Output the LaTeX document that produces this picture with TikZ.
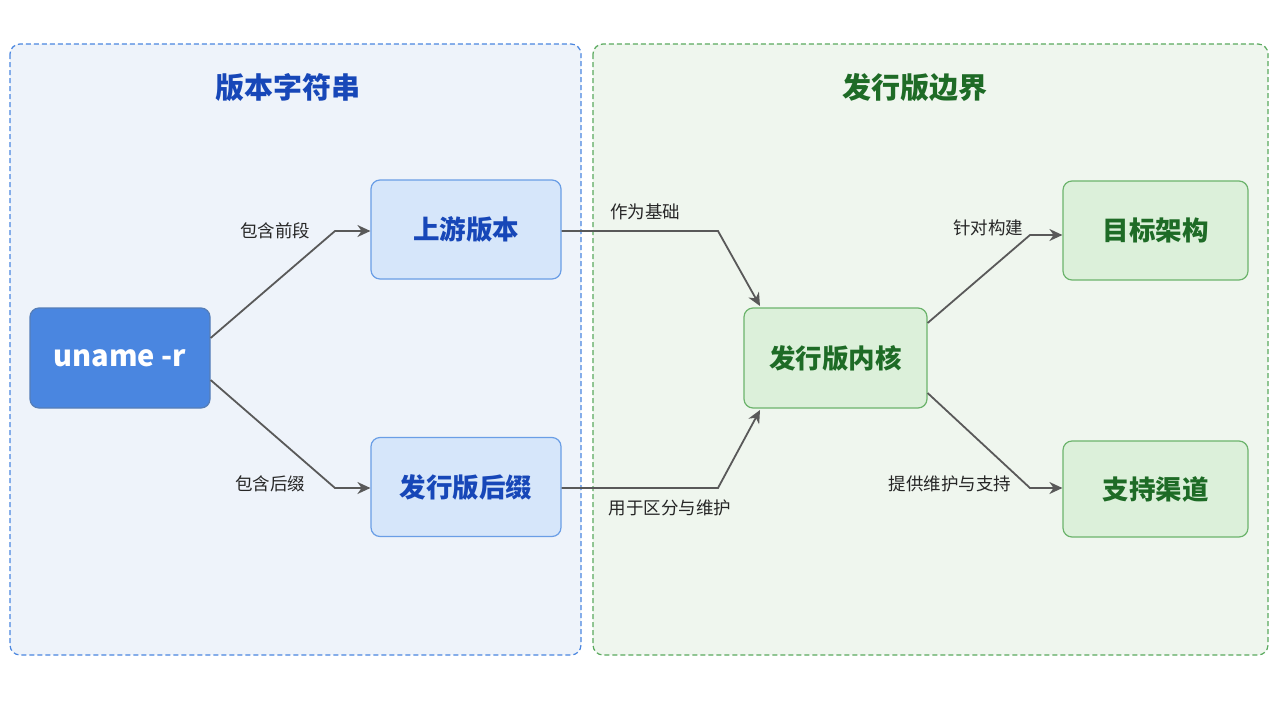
\documentclass[tikz,border=0pt]{standalone}
\usepackage{fontspec}
\setmainfont{Noto Sans CJK SC}
\usetikzlibrary{arrows.meta}
\definecolor{bbg}{HTML}{EEF3FA}
\definecolor{bbd}{HTML}{4A86E0}
\definecolor{gbg}{HTML}{EFF6EE}
\definecolor{gbd}{HTML}{5AAA5E}
\definecolor{bnode}{HTML}{D6E6FA}
\definecolor{bnd}{HTML}{6A9EE6}
\definecolor{gnode}{HTML}{DCF0DA}
\definecolor{gnd}{HTML}{6CB46C}
\definecolor{btxt}{HTML}{1747B8}
\definecolor{gtxt}{HTML}{1E6B26}
\begin{document}
\begin{tikzpicture}[x=1pt,y=-1pt,
  clus/.style={draw, dashed, line width=1.2pt, rounded corners=10pt, dash pattern=on 5pt off 3pt},
  bn/.style={draw=bnd, fill=bnode, line width=1.2pt, rounded corners=9pt, minimum width=190pt, minimum height=99pt, font=\bfseries\fontsize{26.5}{30}\selectfont, text=btxt},
  gn/.style={draw=gnd, fill=gnode, line width=1.2pt, rounded corners=9pt, minimum width=185pt, minimum height=99pt, font=\bfseries\fontsize{26.5}{30}\selectfont, text=gtxt},
  ar/.style={draw=black!65, line width=1.8pt, -{Stealth[length=13pt,width=12pt]}},
  lb/.style={font=\fontsize{17.5}{21}\selectfont, text=black!85}]
\useasboundingbox (0,0) rectangle (1280,702);
\fill[white] (0,0) rectangle (1280,702);
\draw[clus, draw=bbd, fill=bbg] (10,44) rectangle (581,655);
\draw[clus, draw=gbd, fill=gbg] (593,44) rectangle (1268,655);
\node[font=\bfseries\fontsize{29}{33}\selectfont, text=btxt] (t1) at (288,88) {版本字符串};
\node[font=\bfseries\fontsize{29}{33}\selectfont, text=gtxt] (t2) at (915,88) {发行版边界};
\node[draw=bnd!80!black, fill=bbd, line width=1.2pt, rounded corners=9pt, minimum width=180pt, minimum height=100pt, text=white, font=\bfseries\fontsize{29}{33}\selectfont] (un) at (120,358) {uname -r};
\node[bn] (up) at (466,229.5) {上游版本};
\node[bn] (sf) at (466,487) {发行版后缀};
\node[gn, minimum width=183pt, minimum height=100pt] (k) at (835.5,358) {发行版内核};
\node[gn] (ta) at (1155.5,230.5) {目标架构};
\node[gn, minimum height=96pt] (sc) at (1155.5,489) {支持渠道};
\coordinate (c1) at (335,231); \coordinate (c2) at (335,488);
\coordinate (c3) at (718,231); \coordinate (c4) at (718,488);
\coordinate (c5) at (1030,235); \coordinate (c6) at (1030,488);
\draw[ar] (un.east |- 0,338) -- (c1) -- (up.west |- c1);
\draw[ar] (un.east |- 0,380) -- (c2) -- (sf.west |- c2);
\draw[ar] (up.east |- c3) -- (c3) -- (760,306);
\draw[ar] (sf.east |- c4) -- (c4) -- (760,410);
\draw[ar] (k.east |- 0,323) -- (c5) -- (ta.west |- c5);
\draw[ar] (k.east |- 0,393) -- (c6) -- (sc.west |- c6);
\node[lb] (l1) at (275,231) {包含前段};
\node[lb] (l2) at (270,484) {包含后缀};
\node[lb] (l3) at (645,212) {作为基础};
\node[lb] (l4) at (670,508) {用于区分与维护};
\node[lb] (l5) at (988,228) {针对构建};
\node[lb] (l6) at (950,484) {提供维护与支持};
\end{tikzpicture}
\end{document}
